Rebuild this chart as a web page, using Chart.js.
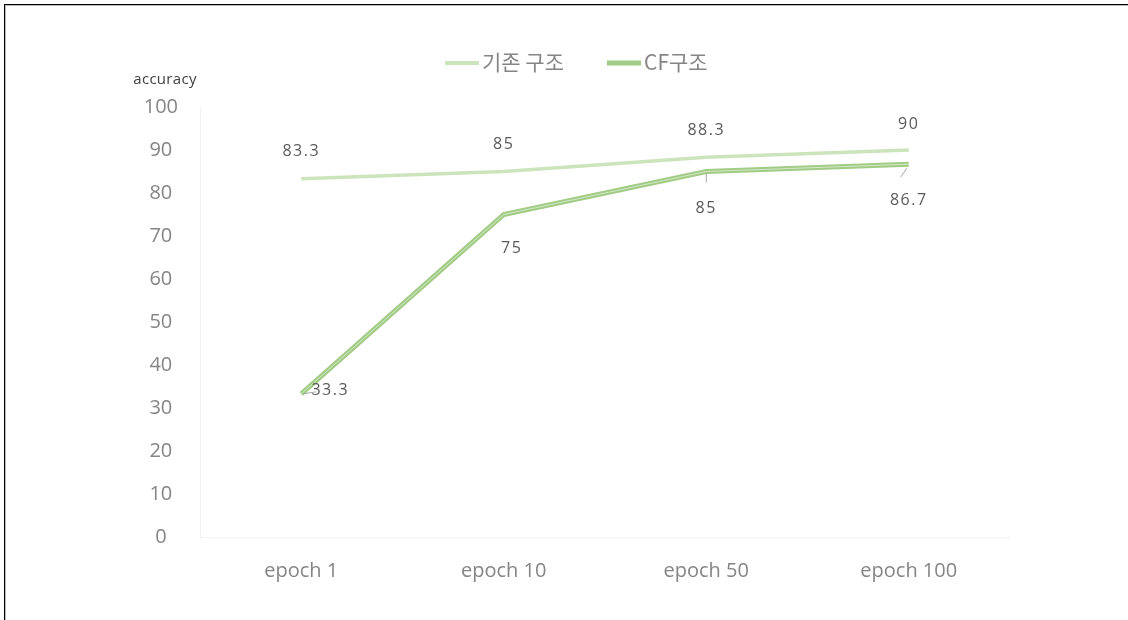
<!DOCTYPE html>
<html>
<head>
<meta charset="utf-8">
<script src="https://cdn.jsdelivr.net/npm/chart.js@4/dist/chart.umd.min.js"></script>
<style>
  html, body { margin: 0; padding: 0; background: #fff; }
  #wrap { position: relative; width: 1128px; height: 620px; }
  #frame {
    position: absolute; left: 4px; top: 4px; right: 0; bottom: 0;
    border-top: 1px solid #000; border-left: 1px solid #000;
    box-shadow: inset 1px 1px 0 #bbb;
    pointer-events: none;
  }
  canvas { position: absolute; left: 0; top: 0; }
</style>
</head>
<body>
<div id="wrap">
  <canvas id="chart-1" width="1128" height="620"></canvas>
  <div id="frame"></div>
</div>
<script>
const epochs = ["epoch 1", "epoch 10", "epoch 50", "epoch 100"];
const baseAcc = [83.3, 85, 88.3, 90];
const cfAcc = [33.3, 75, 85, 86.7];
const yTicks = [0, 10, 20, 30, 40, 50, 60, 70, 80, 90, 100];
const seriesNames = ["기존 구조", "CF구조"];

const KR = "'Noto Sans CJK KR', sans-serif";
const NUM = "'Open Sans', 'Noto Sans', sans-serif";
const BASE_COLOR = "#cbe4bb";
const CF_COLOR = "#a2cc86";

// label offsets (px) from each point, with an optional leader line
const labelPos = {
  0: [{ dx: 0, dy: -27 }, { dx: 0, dy: -27 }, { dx: 0, dy: -27 }, { dx: 0, dy: -26 }],
  1: [{ dx: 29, dy: -3, lead: [[2, 0], [15, -2]] }, { dx: 8, dy: 34 },
      { dx: 0, dy: 37, lead: [[0, 2], [0, 11]] }, { dx: 0, dy: 36, lead: [[-2, 4], [-8, 13]] }]
};

const decorations = {
  id: "decorations",
  afterDatasetsDraw(chart) {
    const ctx = chart.ctx;
    ctx.save();
    ctx.textBaseline = "middle";

    // value labels
    ctx.font = "16px " + NUM;
    ctx.letterSpacing = "1.5px";
    ctx.fillStyle = "#595959";
    ctx.textAlign = "center";
    [0, 1].forEach(di => {
      const meta = chart.getDatasetMeta(di);
      const vals = chart.data.datasets[di].data;
      meta.data.forEach((pt, i) => {
        const p = labelPos[di][i];
        if (p.lead) {
          ctx.strokeStyle = "#a6a6a6";
          ctx.lineWidth = 1;
          ctx.beginPath();
          ctx.moveTo(pt.x + p.lead[0][0], pt.y + p.lead[0][1]);
          ctx.lineTo(pt.x + p.lead[1][0], pt.y + p.lead[1][1]);
          ctx.stroke();
        }
        ctx.fillText(String(vals[i]), pt.x + p.dx, pt.y + p.dy);
      });
    });

    // axis title, horizontal above the top tick
    const y = chart.scales.y;
    ctx.font = "15px " + NUM;
    ctx.letterSpacing = "0.3px";
    ctx.fillStyle = "#404040";
    ctx.fillText("accuracy", 165, y.getPixelForValue(100) - 27);

    // legend
    ctx.letterSpacing = "0px";
    ctx.font = "21px " + KR;
    ctx.textAlign = "left";
    ctx.fillStyle = "#858585";
    const items = [
      { x: 445, color: BASE_COLOR, width: 4 },
      { x: 607, color: CF_COLOR, width: 5 }
    ];
    items.forEach((it, i) => {
      ctx.strokeStyle = it.color;
      ctx.lineWidth = it.width;
      ctx.beginPath();
      ctx.moveTo(it.x, 63);
      ctx.lineTo(it.x + 34, 63);
      ctx.stroke();
      ctx.fillText(seriesNames[i], it.x + 37, 62);
    });
    ctx.restore();
  }
};

new Chart(document.getElementById("chart-1"), {
  type: "line",
  data: {
    labels: epochs,
    datasets: [
      { label: seriesNames[0], data: baseAcc, borderColor: BASE_COLOR, order: 1,
        borderWidth: 3.5, pointRadius: 0, tension: 0 },
      { label: seriesNames[1], data: cfAcc, borderColor: CF_COLOR, order: 2,
        borderWidth: 5, pointRadius: 0, tension: 0 },
      // light core of the CF line, drawn on top of it
      { label: "core", data: cfAcc, borderColor: "#d3e8c6", order: 0,
        borderWidth: 1, pointRadius: 0, tension: 0 }
    ]
  },
  options: {
    responsive: false,
    animation: false,
    layout: { padding: { left: 0, right: 118, top: 107, bottom: 0 } },
    plugins: {
      tooltip: { enabled: false },
      legend: { display: false }
    },
    scales: {
      x: {
        offset: true,
        grid: { display: false, drawTicks: false },
        border: { color: "#f2f2f2", width: 1 },
        ticks: { color: "#858585", padding: 22, font: { family: NUM, size: 20 } },
        afterFit: s => { s.height = 83; }
      },
      y: {
        min: 0, max: 100,
        afterBuildTicks: s => { s.ticks = yTicks.map(v => ({ value: v })); },
        grid: { display: false, drawTicks: false },
        border: { color: "#f2f2f2", width: 1 },
        ticks: { color: "#858585", padding: 22, crossAlign: "center", font: { family: NUM, size: 20 } },
        afterFit: s => { s.width = 200; }
      }
    }
  },
  plugins: [decorations]
});
</script>
</body>
</html>
